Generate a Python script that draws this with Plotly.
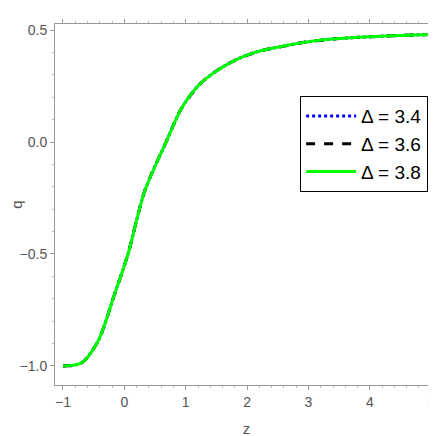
import plotly.graph_objects as go

z = [-1.0, -0.7, -0.43, -0.16, 0.06, 0.33, 0.68, 0.93, 1.2, 1.46, 1.8, 2.13, 2.35, 3.0, 3.5, 4.0, 4.5, 5.0]
q = [-1.0, -0.987, -0.89, -0.68, -0.5, -0.22, 0.0, 0.15, 0.25, 0.31, 0.365, 0.40, 0.415, 0.448, 0.462, 0.47, 0.476, 0.48]
deltas = ["3.4", "3.6", "3.8"]
colors = ["blue", "black", "#00ff00"]
dashes = ["dot", "dash", "solid"]

fig = go.Figure()
for d, c, ds in zip(deltas, colors, dashes):
    fig.add_trace(go.Scatter(x=z, y=q, mode="lines", name="Δ = " + d,
                             line=dict(color=c, dash=ds, width=3, shape="spline", smoothing=0.8)))

font = "Liberation Sans Narrow, Liberation Sans, Arial"
axis = dict(showline=True, linecolor="#999", mirror="ticks", ticks="outside",
            tickcolor="#999", ticklen=4, showgrid=False, zeroline=False, automargin=False,
            tickfont=dict(size=14, color="#555", family=font),
            minor=dict(ticks="outside", ticklen=2, tickcolor="#bbb"))

fig.update_layout(
    width=436, height=436, plot_bgcolor="white", paper_bgcolor="white",
    margin=dict(l=47, r=6, t=16, b=59),
    xaxis=dict(axis, range=[-1.13, 5.11], dtick=1, minor=dict(axis["minor"], dtick=0.2),
               title=dict(text="z", font=dict(size=15, color="#555", family=font), standoff=14)),
    yaxis=dict(axis, range=[-1.085, 0.527], dtick=0.5, tickformat=".1f",
               minor=dict(axis["minor"], dtick=0.1),
               title=dict(text="q", font=dict(size=15, color="#555", family=font), standoff=8)),
    legend=dict(x=0.64, y=0.80, xanchor="left", yanchor="top", bgcolor="white",
                bordercolor="black", borderwidth=1, tracegroupgap=0,
                font=dict(size=19, color="black", family=font), itemwidth=50),
    showlegend=True,
)

fig.write_html("out.html")
